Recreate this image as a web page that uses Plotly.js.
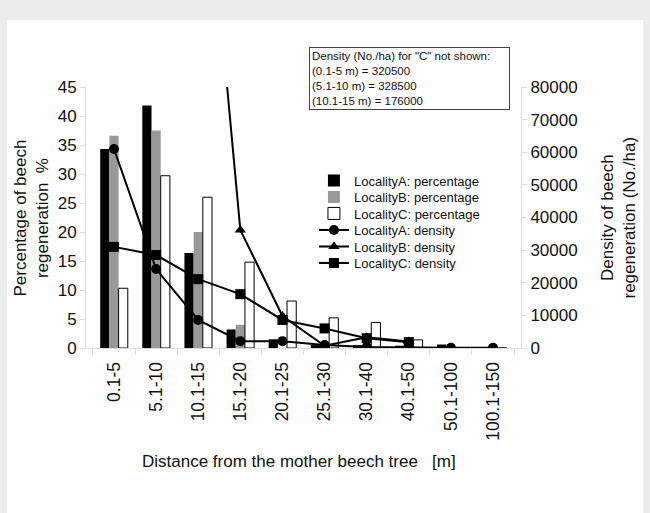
<!DOCTYPE html>
<html>
<head>
<meta charset="utf-8">
<script src="https://cdn.plot.ly/plotly-3.0.1.min.js"></script>
<style>
  body { margin:0; background:#ececec; }
  #panel { position:absolute; left:7px; top:20px; width:636px; height:493px; background:#ffffff; }
  #plot { position:absolute; left:0; top:0; width:650px; height:513px; }
</style>
</head>
<body>
<div id="panel"></div>
<div id="plot"></div>
<script>
const categories = ['0.1-5','5.1-10','10.1-15','15.1-20','20.1-25','25.1-30','30.1-40','40.1-50','50.1-100','100.1-150'];
const pctA = [34.3, 41.8, 16.4, 3.2, 1.5, 0.5, 0.5, 0.4, 0.6, 0];
const pctB = [36.6, 37.5, 20.0, 4.0, 0, 0, 0, 0, 0, 0];
const pctC = [10.3, 29.7, 26.0, 14.8, 8.1, 5.2, 4.4, 1.4, 0, 0];
const densA = [61000, 24200, 8600, 2100, 2100, 900, 300, 300, 100, 50];
const densB = [320500, 328500, 176000, 36200, 9800, 700, 3300, 2000, null, null];
const densC = [31000, 28500, 21100, 16500, 8600, 6000, 3000, 1800, null, null];
const leftTicks = [0,5,10,15,20,25,30,35,40,45];
const rightTicks = [0,10000,20000,30000,40000,50000,60000,70000,80000];

const FONT = 'Liberation Sans, Arial, sans-serif';

const traces = [
  {type:'bar', name:'LocalityA: percentage', x:categories, y:pctA, legend:'legend',
   marker:{color:'#000000', line:{color:'#000000', width:0}}},
  {type:'bar', name:'LocalityB: percentage', x:categories, y:pctB, legend:'legend2',
   marker:{color:'#999999', line:{color:'#999999', width:0}}},
  {type:'bar', name:'LocalityC: percentage', x:categories, y:pctC, legend:'legend3',
   marker:{color:'#ffffff', line:{color:'#000000', width:1}}},
  {type:'scatter', mode:'lines+markers', name:'LocalityA: density', x:categories, y:densA, yaxis:'y2', legend:'legend4',
   line:{color:'#000000', width:2}, marker:{symbol:'circle', size:10, color:'#000000'}},
  {type:'scatter', mode:'lines+markers', name:'LocalityB: density', x:categories, y:densB, yaxis:'y2', legend:'legend5',
   line:{color:'#000000', width:2}, marker:{symbol:'triangle-up', size:10, color:'#000000'}},
  {type:'scatter', mode:'lines+markers', name:'LocalityC: density', x:categories, y:densC, yaxis:'y2', legend:'legend6',
   line:{color:'#000000', width:2}, marker:{symbol:'square', size:10, color:'#000000'}}
];

function leg(centerPx) {
  return {x:0.524, y:(348 - centerPx + 15.5)/261, xanchor:'left', yanchor:'top',
          bgcolor:'rgba(0,0,0,0)', font:{family:FONT, size:13, color:'#111111'}};
}

const layout = {
  width:650, height:513,
  margin:{l:86, r:129, t:87, b:165, autoexpand:false},
  paper_bgcolor:'rgba(0,0,0,0)', plot_bgcolor:'#ffffff',
  font:{family:FONT, color:'#111111', size:17},
  barmode:'group', bargap:0.345, bargroupgap:0,
  showlegend:true,
  legend:leg(181), legend2:leg(197.5), legend3:leg(214), legend4:leg(230.5), legend5:leg(247), legend6:leg(263.5),
  xaxis:{type:'category', tickangle:-90, tickson:'boundaries', ticks:'outside', ticklen:6, automargin:false,
         tickcolor:'#dddddd', showline:true, linecolor:'#dddddd', showgrid:false,
         tickfont:{family:FONT, size:17.5, color:'#111111'}, ticklabelstandoff:6},
  yaxis:{range:[0,45], tickvals:leftTicks, ticks:'outside', ticklen:5, tickcolor:'#dddddd', automargin:false,
         showline:true, linecolor:'#dddddd', showgrid:false, zeroline:false,
         tickfont:{family:FONT, size:17, color:'#111111'}},
  yaxis2:{overlaying:'y', side:'right', range:[0,80000], tickvals:rightTicks, tickformat:'d', automargin:false,
          ticks:'outside', ticklen:5, tickcolor:'#dddddd', showline:true, linecolor:'#dddddd',
          showgrid:false, zeroline:false, tickfont:{family:FONT, size:17, color:'#111111'}},
  annotations:[
    {xref:'paper', yref:'paper', x:(31-86)/435, y:0.5, xanchor:'center', yanchor:'middle',
     textangle:-90, showarrow:false, text:'Percentage of beech<br>regeneration  %',
     font:{family:FONT, size:17, color:'#111111'}},
    {xref:'paper', yref:'paper', x:(618-86)/435, y:0.5, xanchor:'center', yanchor:'middle',
     textangle:-90, showarrow:false, text:'Density of beech<br>regeneration (No./ha)',
     font:{family:FONT, size:17, color:'#111111'}},
    {xref:'paper', yref:'paper', x:(299-86)/435, y:(348-461)/261, xanchor:'center', yanchor:'middle',
     showarrow:false, text:'Distance from the mother beech tree   [m]',
     font:{family:FONT, size:17, color:'#111111'}},
    {xref:'paper', yref:'paper', x:(309-86)/435, y:(348-47)/261, xanchor:'left', yanchor:'top',
     showarrow:false, align:'left', width:195, height:57, borderpad:2,
     bordercolor:'#444444', borderwidth:1, bgcolor:'#ffffff',
     text:'Density (No./ha) for "C" not shown:<br>(0.1-5 m) = 320500<br>(5.1-10 m) = 328500<br>(10.1-15 m) = 176000',
     font:{family:FONT, size:11.5, color:'#111111'}}
  ]
};

Plotly.newPlot('plot', traces, layout, {displayModeBar:false, staticPlot:true});
</script>
</body>
</html>
